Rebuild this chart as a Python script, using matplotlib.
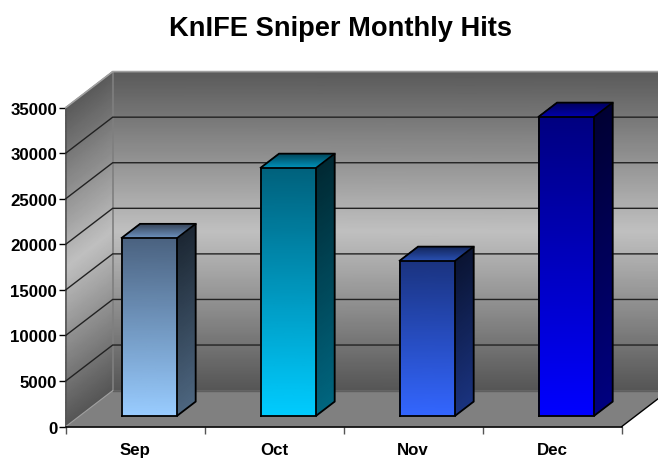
import numpy as np
import matplotlib
matplotlib.use("Agg")
import matplotlib.pyplot as plt
from matplotlib.colors import LinearSegmentedColormap

plt.rcParams["font.family"] = ["Liberation Sans", "DejaVu Sans"]
plt.rcParams["font.weight"] = "bold"

months = ["Sep", "Oct", "Nov", "Dec"]
hits = [19500, 27200, 17000, 32800]
yticks = [0, 5000, 10000, 15000, 20000, 25000, 30000, 35000]

# bottom -> top colours of each bar (front, side, roof)
front_cols = [("#99ccff", "#4a6280"), ("#00ccff", "#00617c"), ("#3366ff", "#1a3380"), ("#0000ff", "#000080")]
side_cols = [("#4d6680", "#1c2733"), ("#006680", "#002933"), ("#1a3380", "#0a1433"), ("#000080", "#000033")]
roof_cols = [("#7096c4", "#3a4a60"), ("#0096bf", "#004a60"), ("#2a52b8", "#14285f"), ("#0000b0", "#000060")]
wall_cols = ["#555555", "#c0c0c0", "#5a5a5a"]

# axes fill the whole figure so the 3d box can be drawn in data units
PX_CAT = 139.0
PX_VAL = 319.0 / 35000
DX = 47 / PX_CAT  # full depth of the box in category units
DY = 36 / PX_VAL  # full depth of the box in value units

fig = plt.figure(figsize=(6.58, 4.6), dpi=100)
ax = fig.add_axes([0, 0, 1, 1])
ax.set_xlim(-65.7 / PX_CAT, (658 - 65.7) / PX_CAT)
ax.set_ylim(-(460 - 427.6) / PX_VAL, 427.6 / PX_VAL)


def proj(x, v, d):
    return x + d * DX, v + d * DY


def face(a, b, h, colors, d_h=0.0, z=2):
    # quad from edge a-b going up by h (and back by d_h), with a vertical gradient
    cmap = LinearSegmentedColormap.from_list("f", colors)
    t = np.linspace(0, 1, 41)[:, None]
    X = np.hstack([a[0] + t * d_h * DX, b[0] + t * d_h * DX])
    Y = np.hstack([a[1] + t * (h + d_h * DY), b[1] + t * (h + d_h * DY)])
    ax.pcolormesh(X, Y, np.hstack([t, t]), cmap=cmap, shading="gouraud", zorder=z)


def outline(xs, ys, color="black", lw=1.3, z=3):
    ax.plot(xs, ys, color=color, lw=lw, solid_joinstyle="miter", zorder=z)


n = len(months)
top = yticks[-1]

# back wall and side wall
face(proj(0, 0, 1), proj(n, 0, 1), top, wall_cols, z=1)
face(proj(0, 0, 0), proj(0, 0, 1), top, wall_cols, z=1)
# floor
ax.fill(*zip(proj(0, 0, 0), proj(n, 0, 0), proj(n, 0, 1), proj(0, 0, 1)), color="#808080", lw=0, zorder=1)
# edges of the walls
outline(*zip(proj(0, 0, 1), proj(0, top, 1)), color="#7f7f7f", lw=1.2)
outline(*zip(proj(0, 0, 1), proj(n, 0, 1)), color="#5f5f5f", lw=1.0)
outline(*zip(proj(0, top, 0), proj(0, top, 1), proj(n, top, 1)), color="#a0a0a0", lw=1.2)
outline(*zip(proj(0, 0, 0), proj(0, 0, 1)), color="#a0a0a0", lw=0.8)
outline(*zip(proj(n, 0, 0), proj(n, 0, 1)), color="black", lw=1.0)

# gridlines
for v in yticks[1:-1]:
    outline(*zip(proj(0, v, 0), proj(0, v, 1), proj(n, v, 1)), color="#222222", lw=1.0)

# bars
for i, v in enumerate(hits):
    x0, x1 = i + 0.3, i + 0.7
    d0, d1 = 0.305, 0.695
    dd = d1 - d0
    fl, fr = proj(x0, 0, d0), proj(x1, 0, d0)
    br = proj(x1, 0, d1)
    tl, tr = proj(x0, v, d0), proj(x1, v, d0)
    face(fl, fr, v, front_cols[i], z=4)
    face(fr, br, v, side_cols[i], z=4)
    face(tl, tr, 0, roof_cols[i], d_h=dd, z=4)
    btr, btl = proj(x1, v, d1), proj(x0, v, d1)
    outline(*zip(fl, fr, tr, tl, fl), z=5)
    outline(*zip(fr, br, btr, tr), z=5)
    outline(*zip(tl, btl, btr), z=5)

# axes lines, ticks and labels
for s in ["top", "right"]:
    ax.spines[s].set_visible(False)
ax.spines["left"].set_position(("data", 0))
ax.spines["left"].set_bounds(0, top)
ax.spines["left"].set_color("#555555")
ax.spines["left"].set_linewidth(1.2)
ax.spines["bottom"].set_position(("data", 0))
ax.spines["bottom"].set_bounds(0, n)
ax.spines["bottom"].set_linewidth(1.2)
ax.spines["bottom"].set_zorder(3)
ax.set_yticks(yticks)
ax.tick_params(axis="y", length=5, width=1, labelsize=12.2, pad=1, color="black")
ax.set_xticks(range(n + 1))
ax.set_xticklabels([])
ax.tick_params(axis="x", which="major", length=5, width=1, color="#555555")
ax.set_xticks(np.arange(n) + 0.5, labels=months, minor=True)
ax.tick_params(axis="x", which="minor", length=0, labelsize=12.2, pad=11)

fig.text(341 / 658, 1 - 29.5 / 460, "KnIFE Sniper Monthly Hits", ha="center", va="center", fontsize=19.6, fontweight="bold")

fig.savefig("out.png", dpi=100)
